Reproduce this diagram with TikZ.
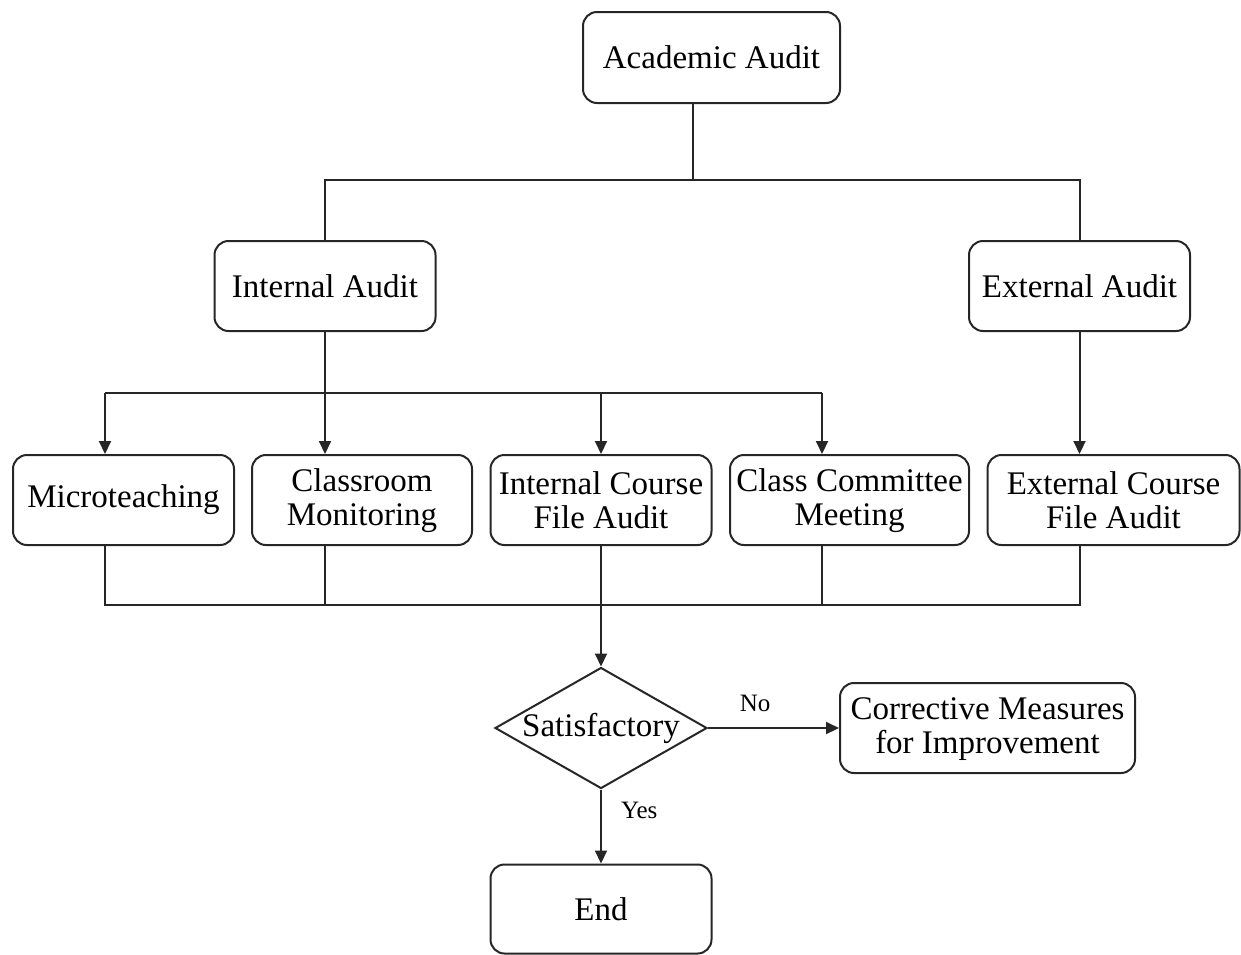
\documentclass[tikz,border=0pt]{standalone}
\usepackage{fontspec}
\setmainfont{Liberation Serif}
\usetikzlibrary{arrows.meta,shapes.geometric}
\begin{document}
\begin{tikzpicture}[x=0.5pt,y=-0.5pt,
  box/.style={draw=black!85, line width=1pt, rounded corners=7pt, align=center,
    font=\fontsize{16.5}{17}\selectfont, inner sep=0pt},
  dec/.style={draw=black!85, line width=1pt, diamond, aspect=1.75, inner sep=0pt,
    font=\fontsize{16.5}{17}\selectfont},
  conn/.style={draw=black!85, line width=1pt},
  arr/.style={conn, -{Triangle[length=6.5pt,width=6pt]}},
  lab/.style={font=\fontsize{12.5}{14}\selectfont, inner sep=0pt}]
\useasboundingbox (0,0) rectangle (1241,954);
% nodes
\node[box, minimum width=128.5pt, minimum height=45.5pt] (acad) at (711.5,57.5) {Academic Audit};
\node[box, minimum width=110.5pt, minimum height=45pt] (int) at (325,286) {Internal Audit};
\node[box, minimum width=110.5pt, minimum height=45pt] (ext) at (1079.5,286) {External Audit};
\node[box, minimum width=110.5pt, minimum height=45pt] (micro) at (123.5,500) {Microteaching};
\node[box, minimum width=110pt, minimum height=45pt] (class) at (362,500) {\strut Classroom\\Monitoring};
\node[box, minimum width=110.5pt, minimum height=45pt] (icfa) at (601,500) {\strut Internal Course\\File Audit};
\node[box, minimum width=119.5pt, minimum height=45pt] (ccm) at (849.5,500) {\strut Class Committee\\Meeting};
\node[box, minimum width=126pt, minimum height=45pt] (ecfa) at (1113.5,500) {\strut External Course\\File Audit};
\node[dec, minimum width=106pt, minimum height=60.5pt] (sat) at (601,728) {Satisfactory};
\node[box, minimum width=147.5pt, minimum height=45pt] (corr) at (987.5,728) {\strut Corrective Measures\\for Improvement};
\node[box, minimum width=110.5pt, minimum height=44.5pt] (end) at (601,909) {End};
% bus levels
\coordinate (ybusA) at (0,180);
\coordinate (ybusB) at (0,393);
\coordinate (ybusC) at (0,605);
% attachment points
\coordinate (aOut) at ([xshift=-9.25pt]acad.south);
\coordinate (mIn) at ([xshift=-9.25pt]micro.north);
\coordinate (mOut) at ([xshift=-9.25pt]micro.south);
\coordinate (cIn) at (int.south |- class.north);
\coordinate (cOut) at (int.south |- class.south);
\coordinate (kIn) at ([xshift=-13.75pt]ccm.north);
\coordinate (kOut) at ([xshift=-13.75pt]ccm.south);
\coordinate (eIn) at (ext.south |- ecfa.north);
\coordinate (eOut) at (ext.south |- ecfa.south);
% top level
\draw[conn] (aOut) -- (aOut |- ybusA);
\draw[conn] (int.north) -- (int.north |- ybusA) -- (ext.north |- ybusA) -- (ext.north);
% internal audit branches
\draw[conn] (mIn |- ybusB) -- (kIn |- ybusB);
\draw[arr] (int.south) -- (cIn);
\draw[arr] (mIn |- ybusB) -- (mIn);
\draw[arr] (icfa.north |- ybusB) -- (icfa.north);
\draw[arr] (kIn |- ybusB) -- (kIn);
% external audit branch
\draw[arr] (ext.south) -- (eIn);
% collecting bus
\draw[conn] (mOut) -- (mOut |- ybusC) -- (eOut |- ybusC) -- (eOut);
\draw[conn] (cOut) -- (cOut |- ybusC);
\draw[conn] (kOut) -- (kOut |- ybusC);
\draw[conn] (icfa.south) -- (icfa.south |- ybusC);
\draw[arr] (icfa.south |- ybusC) -- (sat.north);
% decision
\draw[arr] (sat.east) -- node[lab, pos=0.36, above=7.5pt] {No} (corr.west);
\draw[arr] (sat.south) -- node[lab, pos=0.28, right=9.5pt] {Yes} (end.north);
\end{tikzpicture}
\end{document}
